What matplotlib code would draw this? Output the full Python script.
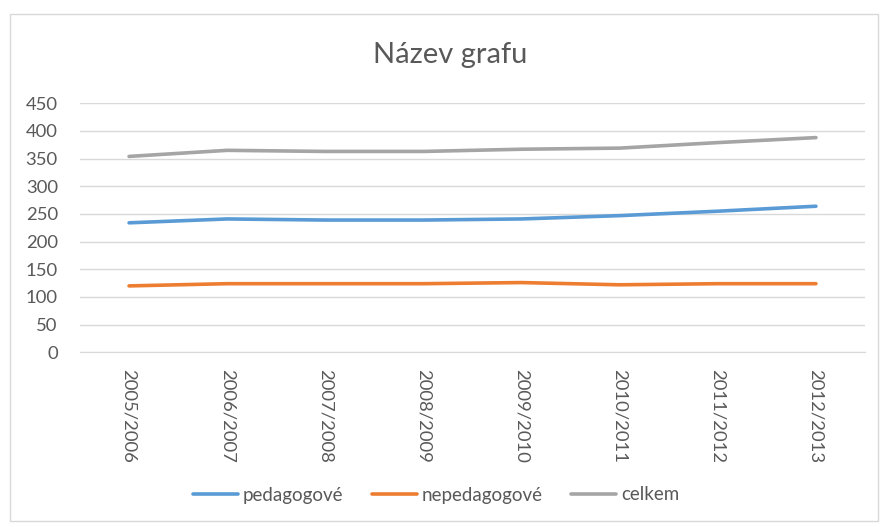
import matplotlib
matplotlib.use("Agg")
import matplotlib.pyplot as plt
from matplotlib.patches import Rectangle

plt.rcParams['font.family'] = ['Lato', 'DejaVu Sans']

roky = ["2005/2006", "2006/2007", "2007/2008", "2008/2009",
        "2009/2010", "2010/2011", "2011/2012", "2012/2013"]
pedagogove = [234, 241, 239, 239, 241, 247, 255, 264]
nepedagogove = [120, 124, 124, 124, 126, 122, 124, 124]
celkem = [354, 365, 363, 363, 367, 369, 379, 388]

TEXT = '#595959'

fig = plt.figure(figsize=(8.82, 5.27), dpi=100)
# ramecek kolem grafu
fig.patches.append(Rectangle((10/882, 1 - 521/527), 868/882, 507/527,
                             transform=fig.transFigure, fill=False,
                             edgecolor='#D9D9D9', linewidth=1))

ax = fig.add_axes([80/882, 1 - 352.3/527, 785/882, 249/527])
x = range(len(roky))
ax.plot(x, pedagogove, color='#5B9BD5', lw=2.6, solid_capstyle='round', label='pedagogové')
ax.plot(x, nepedagogove, color='#ED7D31', lw=2.6, solid_capstyle='round', label='nepedagogové')
ax.plot(x, celkem, color='#A5A5A5', lw=2.6, solid_capstyle='round', label='celkem')

ax.set_xlim(-0.5, len(roky) - 0.5)
ax.set_ylim(0, 450)
ax.set_yticks(range(0, 451, 50))
ax.set_xticks(list(x))
ax.set_xticklabels(roky, rotation=-90)
ax.tick_params(axis='both', length=0, labelsize=13.3, labelcolor=TEXT)
ax.tick_params(axis='x', pad=12)
ax.tick_params(axis='y', pad=16)
ax.grid(axis='y', color='#D9D9D9', lw=1)
ax.set_axisbelow(True)
for s in ax.spines.values():
    s.set_visible(False)
ax.spines['bottom'].set_visible(True)
ax.spines['bottom'].set_color('#D9D9D9')

fig.text(450/882, 1 - 55/527, 'Název grafu', ha='center', va='center',
         fontsize=21, color=TEXT)

fig.legend(loc='center', bbox_to_anchor=(436/882, 1 - 495/527), ncol=3,
           frameon=False, fontsize=13.5, labelcolor=TEXT, handlelength=2.4,
           handletextpad=0.27, columnspacing=1.5)

fig.savefig('out.png', dpi=100)
